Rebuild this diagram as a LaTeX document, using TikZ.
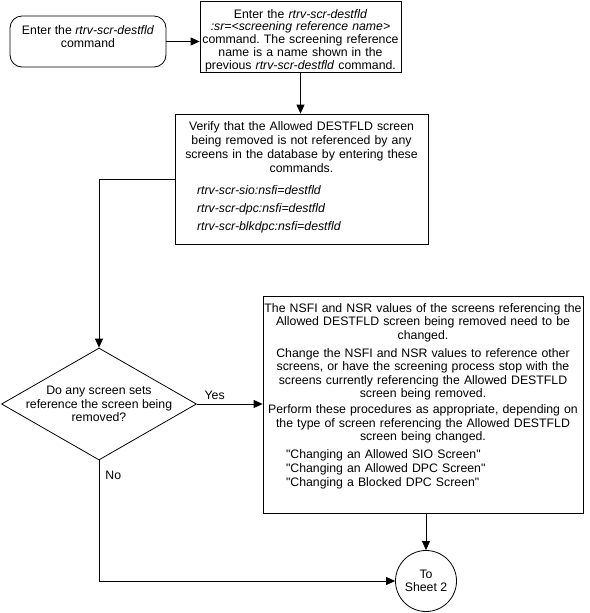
\documentclass[tikz,border=0pt]{standalone}
\usepackage{fontspec}
\setmainfont{Liberation Sans}[Ligatures=TeXOff]
\usetikzlibrary{shapes.geometric,arrows.meta}
\frenchspacing

\tikzset{
  flowfont/.style={font=\fontsize{12.3}{13.5}\selectfont},
  termbox/.style={flowfont, draw, line width=0.8pt, rounded corners=12pt, align=center, inner sep=0pt, minimum width=156pt, minimum height=51pt},
  stepbox/.style={flowfont, draw, line width=0.8pt, inner xsep=1pt, inner ysep=0pt},
  choice/.style={draw, line width=0.8pt, diamond, inner sep=0pt, minimum width=195pt, minimum height=112pt},
  sheetnode/.style={flowfont, draw, line width=0.8pt, circle, align=center, inner sep=0pt, minimum size=61pt},
  edgelabel/.style={flowfont, inner sep=1pt},
  flow/.style={line width=0.8pt, -{Triangle[length=9pt,width=8pt]}}
}

\begin{document}
\begin{tikzpicture}[x=1pt, y=-1pt]
  \useasboundingbox (0,0) rectangle (589,613);

  \node[termbox] (start) at (88,41.5) {Enter the \textit{rtrv-scr-destfld}\\command\\[-4pt]};
  \node[stepbox, text width=199pt, minimum height=71pt, font=\fontsize{12.3}{12.8}\selectfont] (enter) at (300.5,36.5)
    {\centering Enter the \textit{rtrv-scr-destfld}\\\textit{:sr=<screening reference name>}\\command. The screening reference\\name is a name shown in the\\previous \textit{rtrv-scr-destfld} command.\par\vspace{-8pt}\nointerlineskip\hbox{}};
  \node[stepbox, text width=251pt, minimum height=130pt, font=\fontsize{12.3}{14.2}\selectfont] (verify) at (301.5,179)
    {\centering Verify that the Allowed DESTFLD screen\\being removed is not referenced by any\\screens in the database by entering these\\commands.\par\vspace{8pt}%
     \raggedright\leftskip=21pt\itshape rtrv-scr-sio:nsfi=destfld\\[3.5pt]rtrv-scr-dpc:nsfi=destfld\\[3.5pt]rtrv-scr-blkdpc:nsfi=destfld\par\vspace{4pt}\nointerlineskip\hbox{}};
  \node[choice, label={[flowfont, align=center]center:Do any screen sets\\reference the screen being\\removed?}] (decide) at (99,404) {};
  \node[stepbox, text width=318pt, minimum height=217pt] (change) at (423,404.5)
    {\centering The NSFI and NSR values of the screens referencing the\\Allowed DESTFLD screen being removed need to be\\changed.\\[4.5pt]Change the NSFI and NSR values to reference other\\screens, or have the screening process stop with the\\screens currently referencing the Allowed DESTFLD\\screen being removed.\\[2.5pt]Perform these procedures as appropriate, depending on\\the type of screen referencing the Allowed DESTFLD\\screen being changed.\par\vspace{4.5pt}%
     \raggedright\leftskip=22pt "Changing an Allowed SIO Screen"\\[0.5pt]"Changing an Allowed DPC Screen"\\[0.5pt]"Changing a Blocked DPC Screen"\par\vspace{16pt}\nointerlineskip\hbox{}};
  \node[sheetnode] (sheet) at (426,581) {To\\Sheet 2};

  \draw[flow] (start.east) -- (start.east -| enter.west);
  \draw[flow] (enter.south) -- (enter.south |- verify.north);
  \draw[flow] (verify.west) -| (decide.north);
  \draw[flow] (decide.east) -- node[edgelabel, pos=0.27, above=3pt] {Yes} (decide.east -| change.west);
  \draw[flow] (sheet.north |- change.south) -- (sheet.north);
  \draw[flow] (decide.south) |- node[edgelabel, pos=0.06, right=5pt] {No} (sheet.west);
\end{tikzpicture}
\end{document}
